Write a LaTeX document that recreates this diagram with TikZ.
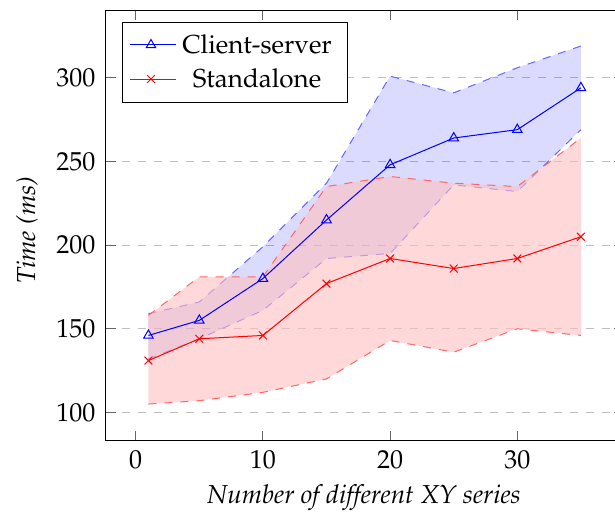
\documentclass[tikz,border=0pt]{standalone}
\usepackage[T1]{fontenc}
\usepackage{mathpazo}
\usetikzlibrary{plotmarks}

\tikzset{
  grid line/.style={gray!50, line width=1, dash pattern=on 8pt off 8pt},
  tick line/.style={black!60, line width=1},
  band edge/.style={line width=1, dash pattern=on 8pt off 8pt},
  series/.style={line width=1, mark size=5.5pt, mark options={solid}},
  label text/.style={font=\fontsize{26}{31}\selectfont, inner sep=0},
}

\begin{document}
\begin{tikzpicture}[x=1pt,y=-1pt]
  \useasboundingbox (0,0) rectangle (615,511);
  \clip (0,0) rectangle (615,511);

  % axis area, in data units
  \begin{scope}[shift={(135.7pt,-579.7pt)}, x=12.72pt, y=1.673pt]
    \foreach \v in {100,150,...,300} {
      \draw[grid line] (-2.36,\v) -- (38.36,\v);
      \draw[tick line] (-2.36,\v) -- ++(10pt,0);
      \draw[tick line] (38.36,\v) -- ++(-10pt,0);
      \node[label text, anchor=east, xshift=-10.2pt] (ytick\v) at (-2.36,\v) {\v};
    }
    \foreach \n in {0,10,20,30} {
      \draw[tick line] (\n,83.1) -- ++(0,10pt);
      \draw[tick line] (\n,340.5) -- ++(0,-10pt);
      \node[label text, anchor=base, yshift=-27.5pt] (xtick\n) at (\n,83.1) {\n};
    }

    % client-server band
    \fill[blue, fill opacity=0.14]
      (1,159) -- (5,166) -- (10,199) -- (15,237) -- (20,301) -- (25,291)
      -- (30,306) -- (35,319) -- (35,269) -- (30,232) -- (25,236)
      -- (20,195) -- (15,192) -- (10,161) -- (5,144) -- (1,132) -- cycle;
    \draw[band edge, blue!60]
      (1,159) -- (5,166) -- (10,199) -- (15,237) -- (20,301) -- (25,291)
      -- (30,306) -- (35,319);
    \draw[band edge, blue!60]
      (1,132) -- (5,144) -- (10,161) -- (15,192) -- (20,195) -- (25,236)
      -- (30,232) -- (35,269);

    % standalone band
    \fill[red!25, fill opacity=0.6]
      (1,158) -- (5,181) -- (10,181) -- (15,235) -- (20,241) -- (25,237)
      -- (30,235) -- (35,264) -- (35,146) -- (30,150) -- (25,136)
      -- (20,143) -- (15,120) -- (10,112) -- (5,107) -- (1,105) -- cycle;
    \draw[band edge, red!60]
      (1,158) -- (5,181) -- (10,181) -- (15,235) -- (20,241) -- (25,237)
      -- (30,235) -- (35,264);
    \draw[band edge, red!60]
      (1,105) -- (5,107) -- (10,112) -- (15,120) -- (20,143) -- (25,136)
      -- (30,150) -- (35,146);

    \draw[series, blue] plot[mark=triangle] coordinates {
      (1,146) (5,155) (10,180) (15,215) (20,248) (25,264) (30,269) (35,294)};
    \draw[series, red] plot[mark=x] coordinates {
      (1,131) (5,144) (10,146) (15,177) (20,192) (25,186) (30,192) (35,205)};

    \draw[line width=1] (-2.36,83.1) rectangle (38.36,340.5);
  \end{scope}

  % legend
  \draw[fill=white, line width=1] (122,23) rectangle (347,102);
  \draw[series, blue] (130,45) -- (176,45);
  \draw[series, blue] plot[mark=triangle] coordinates {(151,45)};
  \draw[series, red] (130,79) -- (176,79);
  \draw[series, red] plot[mark=x] coordinates {(151,79)};
  \node[label text, anchor=base] (client) at (257,53.5) {Client-server};
  \node[label text, anchor=base] (alone) at (257,87) {Standalone};

  \node[label text, anchor=base] (xlabel) at (364,503) {\itshape Number of different XY series};
  \node[label text, anchor=base, rotate=90] (ylabel) at (35,230) {\itshape Time (ms)};
\end{tikzpicture}
\end{document}
